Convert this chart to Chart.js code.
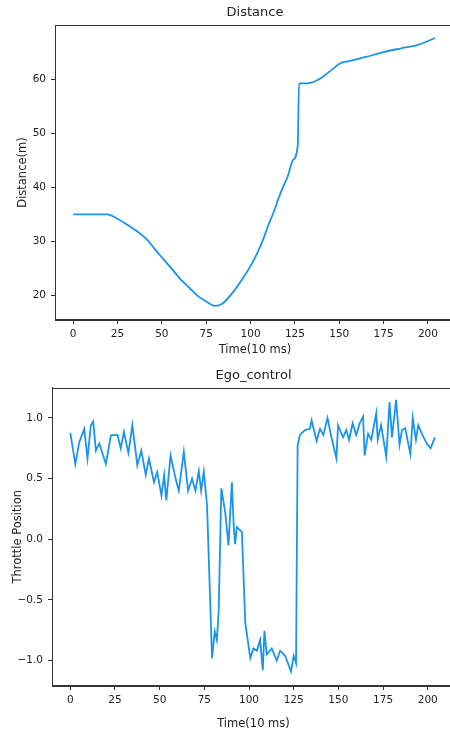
<!DOCTYPE html>
<html>
<head>
<meta charset="utf-8">
<script src="https://cdn.jsdelivr.net/npm/chart.js@4.4.1/dist/chart.umd.min.js"></script>
<style>
html, body { margin: 0; padding: 0; background: #fff; overflow: hidden; width: 450px; height: 732px; }
#distChart { position: absolute; left: 0; top: 0; }
#throttleChart { position: absolute; left: 0; top: 365px; }
</style>
</head>
<body>
<canvas id="distChart" width="470" height="365"></canvas>
<canvas id="throttleChart" width="470" height="367"></canvas>
<script>
// values
var distTime = [0, 10, 19, 25, 30, 36, 41.5, 46, 51, 56, 60, 65, 70, 75, 80, 84, 90, 95, 100, 104, 107, 110, 113, 116, 118.5, 121, 124, 126.6, 127.3, 130, 133.5, 137, 141, 146, 150.4, 155, 158, 165, 175, 185, 194, 199, 204];
var distance = [35, 35, 35, 34.2, 33.2, 31.9, 30.4, 28.6, 26.7, 24.8, 23.2, 21.6, 20, 18.9, 18.1, 18.5, 20.6, 22.9, 25.5, 28, 30.3, 33, 35.4, 38.2, 40.2, 42.1, 45.1, 47.7, 59.2, 59.2, 59.3, 59.7, 60.5, 61.8, 62.9, 63.3, 63.5, 64.1, 65, 65.7, 66.3, 66.9, 67.6];

var throttleTime = [0, 2.8, 5, 7.8, 9.6, 11.5, 12.8, 14.3, 16.2, 19.9, 22.7, 26.4, 28.2, 30, 32.5, 34.7, 37.5, 39.7, 42.2, 44, 46.8, 48.6, 51, 52.5, 53.7, 56.1, 58.9, 60.7, 63.5, 65.9, 68.1, 70, 71.9, 73.2, 74.7, 76.5, 79.3, 80.8, 82, 83, 84.5, 86.7, 88.5, 90.4, 91.4, 92.2, 93.2, 96, 97.9, 100.7, 102.5, 104.4, 106.2, 107.7, 108.6, 109.9, 112.7, 115.5, 117.4, 120.2, 123.5, 125, 126.3, 127.2, 128.5, 131.3, 134, 135, 137.8, 139.7, 141.6, 143.9, 146.1, 148.9, 149.8, 152.6, 154.4, 156, 158, 160, 161.9, 163.8, 164.7, 166.6, 168.4, 171.2, 172, 173.9, 176.8, 178.6, 180, 182.3, 184.2, 185.6, 187.4, 190.3, 191.6, 193.4, 194.7, 197, 199.8, 201.6, 204];
var throttle = [0.876, 0.62, 0.8, 0.91, 0.665, 0.94, 0.97, 0.73, 0.79, 0.62, 0.857, 0.86, 0.75, 0.885, 0.71, 0.94, 0.61, 0.73, 0.53, 0.665, 0.47, 0.555, 0.36, 0.53, 0.32, 0.69, 0.5, 0.4, 0.72, 0.4, 0.5, 0.4, 0.56, 0.4, 0.555, 0.28, -0.98, -0.76, -0.83, -0.6, 0.42, 0.22, -0.05, 0.47, 0.12, -0.04, 0.1, 0.06, -0.69, -0.98, -0.9, -0.92, -0.83, -1.08, -0.755, -0.95, -0.9, -1.0, -0.92, -0.96, -1.09, -0.96, -1.02, 0.775, 0.86, 0.9, 0.91, 0.98, 0.81, 0.91, 0.86, 1.0, 0.84, 0.665, 0.94, 0.84, 0.9, 0.82, 0.955, 0.86, 0.955, 1.01, 0.69, 0.87, 0.82, 1.04, 0.82, 0.94, 0.68, 1.13, 0.84, 1.15, 0.78, 0.9, 0.915, 0.7, 1.0, 0.82, 0.94, 0.86, 0.78, 0.75, 0.84];

var timeTicks = [0, 25, 50, 75, 100, 125, 150, 175, 200];
var distTicks = [20, 30, 40, 50, 60];
var throttleTicks = [-1, -0.5, 0, 0.5, 1];

var lineColor = '#1a94e8';
var textColor = '#222';
var axisColor = '#333';
var fontFamily = '"DejaVu Sans", sans-serif';

function toPoints(xs, ys) {
    var pts = [];
    for (var i = 0; i < xs.length; i++) {
        pts.push({ x: xs[i], y: ys[i] });
    }
    return pts;
}

// box round the plot area (matplotlib spines)
var framePlugin = {
    id: 'frame',
    afterDraw: function (chart) {
        var a = chart.chartArea;
        var ctx = chart.ctx;
        ctx.save();
        ctx.strokeStyle = axisColor;
        ctx.lineWidth = 1;
        ctx.strokeRect(Math.round(a.left) + 0.5, Math.round(a.top) + 0.5, Math.round(a.right - a.left), Math.round(a.bottom - a.top) - 1);
        ctx.restore();
    }
};

function makeAxis(tickList, min, max, label, labelPad, fmt, fit) {
    return {
        type: 'linear',
        min: min,
        max: max,
        afterBuildTicks: function (scale) {
            scale.ticks = tickList.map(function (v) { return { value: v }; });
        },
        ticks: {
            color: textColor,
            font: { family: fontFamily, size: 10.5 },
            padding: 4,
            maxRotation: 0,
            autoSkip: false,
            callback: fmt
        },
        grid: { drawOnChartArea: false, drawTicks: true, tickLength: 4, color: axisColor },
        border: { display: true, color: axisColor, width: 1 },
        title: {
            display: true,
            text: label,
            color: textColor,
            font: { family: fontFamily, size: 11.5 },
            padding: labelPad
        },
        afterFit: fit
    };
}

function timeFmt(v) { return String(v); }

function makeChart(id, cfg) {
    var xAxis = makeAxis(timeTicks, -10.25, 215.25, 'Time(10 ms)', { top: 0, bottom: cfg.xLabelPad }, timeFmt,
        function (s) { s.height = cfg.xHeight; });
    var yAxis = makeAxis(cfg.yTicks, cfg.yMin, cfg.yMax, cfg.yLabel, { top: cfg.yLabelPad, bottom: 0 }, cfg.yFmt,
        function (s) { s.width = cfg.yWidth; });
    yAxis.ticks.padding = 5;

    return new Chart(document.getElementById(id), {
        type: 'line',
        data: {
            datasets: [{
                data: toPoints(cfg.xs, cfg.ys),
                borderColor: lineColor,
                borderWidth: 1.8,
                pointRadius: 0,
                fill: false,
                cubicInterpolationMode: cfg.smooth ? 'monotone' : 'default',
                tension: 0
            }]
        },
        options: {
            responsive: false,
            animation: false,
            layout: { padding: { left: 0, right: 15, top: 0, bottom: 0 } },
            plugins: {
                legend: { display: false },
                tooltip: { enabled: false },
                title: {
                    display: true,
                    text: cfg.title,
                    fullSize: false,
                    color: textColor,
                    font: { family: fontFamily, size: 13, weight: 'normal' },
                    padding: cfg.titlePad
                }
            },
            scales: { x: xAxis, y: yAxis }
        },
        plugins: [framePlugin]
    });
}

makeChart('distChart', {
    title: 'Distance',
    titlePad: { top: 5, bottom: 4.4 },
    xs: distTime,
    ys: distance,
    smooth: true,
    yTicks: distTicks,
    yMin: 15.5,
    yMax: 70,
    yLabel: 'Distance(m)',
    yLabelPad: 16,
    yWidth: 55,
    yFmt: function (v) { return String(v); },
    xHeight: 45,
    xLabelPad: 8
});

makeChart('throttleChart', {
    title: 'Ego_control',
    titlePad: { top: 3, bottom: 4 },
    xs: throttleTime,
    ys: throttle,
    smooth: false,
    yTicks: throttleTicks,
    yMin: -1.21,
    yMax: 1.25,
    yLabel: 'Throttle Position',
    yLabelPad: 11,
    yWidth: 52,
    yFmt: function (v) { return (v < 0 ? '\u2212' : '') + Math.abs(v).toFixed(1); },
    xHeight: 46,
    xLabelPad: 1.5
});
</script>
</body>
</html>
